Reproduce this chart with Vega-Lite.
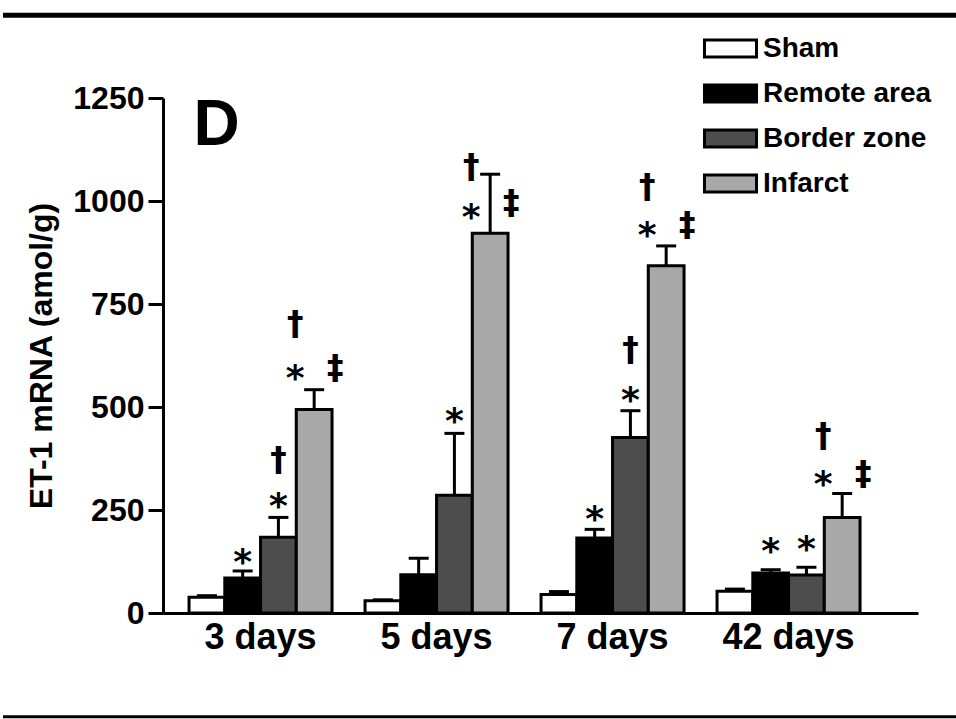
{
  "$schema": "https://vega.github.io/schema/vega-lite/v6.json",
  "width": 755,
  "height": 515,
  "autosize": {"type": "none"},
  "padding": {"left": 163, "top": 98, "right": 38, "bottom": 106},
  "background": "white",
  "config": {
    "view": {"stroke": null},
    "font": "Liberation Sans",
    "axis": {"labelFont": "Liberation Sans", "titleFont": "Liberation Sans", "labelColor": "black", "titleColor": "black", "domainColor": "black", "tickColor": "black", "grid": false}
  },
  "datasets": {
    "bars": [
      {"day": "3 days", "group": "Sham", "mean": 38, "upper": 42},
      {"day": "3 days", "group": "Remote area", "mean": 85, "upper": 102},
      {"day": "3 days", "group": "Border zone", "mean": 184, "upper": 232},
      {"day": "3 days", "group": "Infarct", "mean": 494, "upper": 542},
      {"day": "5 days", "group": "Sham", "mean": 30, "upper": 32},
      {"day": "5 days", "group": "Remote area", "mean": 93, "upper": 133},
      {"day": "5 days", "group": "Border zone", "mean": 286, "upper": 436},
      {"day": "5 days", "group": "Infarct", "mean": 922, "upper": 1065},
      {"day": "7 days", "group": "Sham", "mean": 45, "upper": 52},
      {"day": "7 days", "group": "Remote area", "mean": 182, "upper": 203},
      {"day": "7 days", "group": "Border zone", "mean": 426, "upper": 491},
      {"day": "7 days", "group": "Infarct", "mean": 843, "upper": 891},
      {"day": "42 days", "group": "Sham", "mean": 53, "upper": 58},
      {"day": "42 days", "group": "Remote area", "mean": 97, "upper": 105},
      {"day": "42 days", "group": "Border zone", "mean": 92, "upper": 111},
      {"day": "42 days", "group": "Infarct", "mean": 232, "upper": 290}
    ],
    "notes": [
      {"day": "3 days", "group": "Remote area", "sym": "*", "side": "c", "at": 145},
      {"day": "3 days", "group": "Border zone", "sym": "*", "side": "c", "at": 281},
      {"day": "3 days", "group": "Border zone", "sym": "†", "side": "c", "at": 370},
      {"day": "3 days", "group": "Infarct", "sym": "*", "side": "l", "at": 593},
      {"day": "3 days", "group": "Infarct", "sym": "†", "side": "l", "at": 699},
      {"day": "3 days", "group": "Infarct", "sym": "‡", "side": "r", "at": 593},
      {"day": "5 days", "group": "Border zone", "sym": "*", "side": "c", "at": 487},
      {"day": "5 days", "group": "Infarct", "sym": "*", "side": "l", "at": 983},
      {"day": "5 days", "group": "Infarct", "sym": "†", "side": "l", "at": 1080},
      {"day": "5 days", "group": "Infarct", "sym": "‡", "side": "r", "at": 993},
      {"day": "7 days", "group": "Remote area", "sym": "*", "side": "c", "at": 249},
      {"day": "7 days", "group": "Border zone", "sym": "*", "side": "c", "at": 540},
      {"day": "7 days", "group": "Border zone", "sym": "†", "side": "c", "at": 637},
      {"day": "7 days", "group": "Infarct", "sym": "*", "side": "l", "at": 939},
      {"day": "7 days", "group": "Infarct", "sym": "†", "side": "l", "at": 1031},
      {"day": "7 days", "group": "Infarct", "sym": "‡", "side": "r", "at": 939},
      {"day": "42 days", "group": "Remote area", "sym": "*", "side": "c", "at": 172},
      {"day": "42 days", "group": "Border zone", "sym": "*", "side": "c", "at": 177},
      {"day": "42 days", "group": "Infarct", "sym": "*", "side": "l", "at": 334},
      {"day": "42 days", "group": "Infarct", "sym": "†", "side": "l", "at": 426},
      {"day": "42 days", "group": "Infarct", "sym": "‡", "side": "r", "at": 334}
    ]
  },
  "layer": [
    {
      "data": {"name": "bars"},
      "mark": {"type": "bar", "stroke": "black", "strokeWidth": 3},
      "encoding": {
        "x": {
          "field": "day", "type": "nominal",
          "scale": {"domain": ["3 days", "5 days", "7 days", "42 days"], "paddingInner": 0.1875, "paddingOuter": 0.2386, "align": 0.31},
          "axis": {"ticks": false, "domainWidth": 3, "labelFontSize": 36, "labelFontWeight": "bold", "labelPadding": 7, "labelAngle": 0, "title": null}
        },
        "xOffset": {"field": "group", "type": "nominal", "scale": {"domain": ["Sham", "Remote area", "Border zone", "Infarct"], "paddingInner": 0, "paddingOuter": 0}},
        "y": {
          "field": "mean", "type": "quantitative",
          "scale": {"domain": [0, 1250], "nice": false, "zero": true},
          "axis": {"values": [0, 250, 500, 750, 1000, 1250], "format": "d", "tickSize": 15, "tickWidth": 3, "domainWidth": 3, "labelFontSize": 32, "labelFontWeight": "bold", "labelPadding": 4, "titleFontSize": 32, "titleFontWeight": "bold", "titlePadding": 14},
          "title": "ET-1 mRNA (amol/g)"
        },
        "fill": {
          "field": "group", "type": "nominal",
          "scale": {"domain": ["Sham", "Remote area", "Border zone", "Infarct"], "range": ["#ffffff", "#000000", "#4d4d4d", "#a8a8a8"]},
          "legend": {"orient": "none", "legendX": 553, "legendY": -64, "title": null, "padding": 0, "symbolType": "M-2,-0.65L2,-0.65L2,0.65L-2,0.65Z", "symbolSize": 676, "symbolStrokeColor": "black", "symbolStrokeWidth": 3, "symbolOpacity": 1, "labelFontSize": 28, "labelFont": "Liberation Sans", "labelFontWeight": "bold", "labelColor": "black", "labelOffset": 18, "rowPadding": 16, "labelLimit": 400}
        }
      }
    },
    {
      "data": {"name": "bars"},
      "mark": {"type": "rule", "strokeWidth": 3, "color": "black"},
      "encoding": {
        "x": {"field": "day", "type": "nominal"},
        "xOffset": {"field": "group", "type": "nominal"},
        "y": {"field": "mean", "type": "quantitative"},
        "y2": {"field": "upper"}
      }
    },
    {
      "data": {"name": "bars"},
      "mark": {"type": "tick", "thickness": 3, "size": 20, "color": "black", "opacity": 1},
      "encoding": {
        "x": {"field": "day", "type": "nominal"},
        "xOffset": {"field": "group", "type": "nominal"},
        "y": {"field": "upper", "type": "quantitative"}
      }
    },
    {
      "data": {"name": "notes"},
      "transform": [{"filter": "datum.sym == '*' && datum.side == 'c'"}],
      "mark": {"type": "text", "font": "DejaVu Sans", "fontSize": 36, "fontWeight": "bold", "baseline": "alphabetic", "align": "center", "dy": 21, "color": "black"},
      "encoding": {
        "x": {"field": "day", "type": "nominal"},
        "xOffset": {"field": "group", "type": "nominal"},
        "y": {"field": "at", "type": "quantitative"},
        "text": {"field": "sym"}
      }
    },
    {
      "data": {"name": "notes"},
      "transform": [{"filter": "datum.sym == '*' && datum.side == 'l'"}],
      "mark": {"type": "text", "font": "DejaVu Sans", "fontSize": 36, "fontWeight": "bold", "baseline": "alphabetic", "align": "center", "dy": 21, "dx": -19, "color": "black"},
      "encoding": {
        "x": {"field": "day", "type": "nominal"},
        "xOffset": {"field": "group", "type": "nominal"},
        "y": {"field": "at", "type": "quantitative"},
        "text": {"field": "sym"}
      }
    },
    {
      "data": {"name": "notes"},
      "transform": [{"filter": "datum.sym == '†' && datum.side == 'c'"}],
      "mark": {"type": "text", "font": "DejaVu Sans", "fontSize": 33, "fontWeight": "bold", "baseline": "alphabetic", "align": "center", "dy": 10, "color": "black"},
      "encoding": {
        "x": {"field": "day", "type": "nominal"},
        "xOffset": {"field": "group", "type": "nominal"},
        "y": {"field": "at", "type": "quantitative"},
        "text": {"field": "sym"}
      }
    },
    {
      "data": {"name": "notes"},
      "transform": [{"filter": "datum.sym == '†' && datum.side == 'l'"}],
      "mark": {"type": "text", "font": "DejaVu Sans", "fontSize": 33, "fontWeight": "bold", "baseline": "alphabetic", "align": "center", "dy": 10, "dx": -19, "color": "black"},
      "encoding": {
        "x": {"field": "day", "type": "nominal"},
        "xOffset": {"field": "group", "type": "nominal"},
        "y": {"field": "at", "type": "quantitative"},
        "text": {"field": "sym"}
      }
    },
    {
      "data": {"name": "notes"},
      "transform": [{"filter": "datum.sym == '‡'"}],
      "mark": {"type": "text", "font": "DejaVu Sans", "fontSize": 33, "fontWeight": "bold", "baseline": "alphabetic", "align": "center", "dy": 10, "dx": 21, "color": "black"},
      "encoding": {
        "x": {"field": "day", "type": "nominal"},
        "xOffset": {"field": "group", "type": "nominal"},
        "y": {"field": "at", "type": "quantitative"},
        "text": {"field": "sym"}
      }
    },
    {
      "data": {"values": [{"label": "D"}]},
      "mark": {"type": "text", "fontSize": 64, "fontWeight": "bold", "baseline": "alphabetic", "align": "left", "dx": -67, "color": "black"},
      "encoding": {
        "x": {"datum": "3 days", "type": "nominal"},
        "y": {"datum": 1136, "type": "quantitative"},
        "text": {"field": "label"}
      }
    },
    {
      "data": {"values": [{"edge": "top", "level": 1451}]},
      "mark": {"type": "rule", "strokeWidth": 5, "color": "black"},
      "encoding": {
        "y": {"field": "level", "type": "quantitative"},
        "x": {"value": -160},
        "x2": {"value": 793}
      }
    },
    {
      "data": {"values": [{"edge": "bottom", "level": -252}]},
      "mark": {"type": "rule", "strokeWidth": 3, "color": "black"},
      "encoding": {
        "y": {"field": "level", "type": "quantitative"},
        "x": {"value": -160},
        "x2": {"value": 793}
      }
    }
  ]
}
